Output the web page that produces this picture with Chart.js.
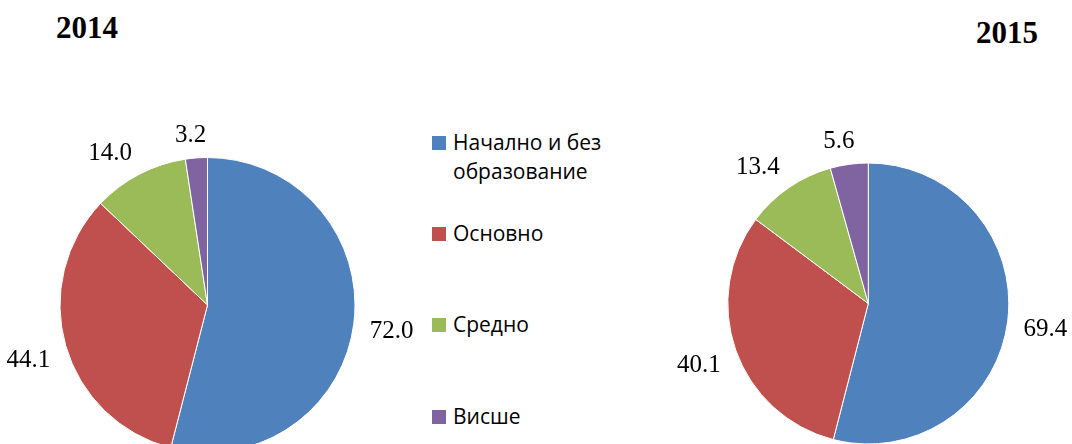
<!DOCTYPE html>
<html><head><meta charset="utf-8">
<script src="https://cdn.jsdelivr.net/npm/chart.js@4"></script>
<style>
html,body{margin:0;padding:0;width:1072px;height:444px;overflow:hidden;background:#fff;}
body{position:relative;}
canvas{position:absolute;display:block;}
.title{position:absolute;font:bold 31px "Liberation Serif","Times New Roman",serif;line-height:31px;color:#000;white-space:nowrap;}
.lg{position:absolute;left:432px;font:21px "Open Sans",sans-serif;line-height:29px;color:#000;white-space:nowrap;}
.lg .sw{position:absolute;left:0;width:14px;height:14px;}
.lg .tx{position:absolute;left:21px;top:0;}
</style></head>
<body>
<div class="title" id="t1" style="left:56px;top:12px"></div>
<div class="title" id="t2" style="left:976px;top:17px"></div>
<canvas id="c1" width="420" height="470" style="left:0;top:0;width:420px;height:470px"></canvas>
<canvas id="c2" width="432" height="470" style="left:640px;top:0;width:432px;height:470px"></canvas>
<div id="legend"></div>
<script>
const categories = ["Начално и без образование", "Основно", "Средно", "Висше"];
const legendLines = [["Начално и без", "образование"], ["Основно"], ["Средно"], ["Висше"]];
const years = ["2014", "2015"];
const values2014 = [72.0, 44.1, 14.0, 3.2];
const values2015 = [69.4, 40.1, 13.4, 5.6];
const colors = ["#4F81BD", "#C0504D", "#9BBB59", "#8064A2"];

document.getElementById('t1').textContent = years[0];
document.getElementById('t2').textContent = years[1];

// HTML legend built from categories & colors
const lg = document.getElementById('legend');
legendLines.forEach((lines, i) => {
  const item = document.createElement('div');
  item.className = 'lg';
  item.style.top = (127.5 + 91.4 * i) + 'px';
  const sw = document.createElement('span');
  sw.className = 'sw'; sw.style.background = colors[i]; sw.style.top = '8px';
  const tx = document.createElement('span');
  tx.className = 'tx'; tx.innerHTML = lines.join('<br>');
  tx.title = categories[i];
  item.appendChild(sw); item.appendChild(tx);
  lg.appendChild(item);
});

const outsideLabels = {
  id: 'outsideLabels',
  afterDatasetsDraw(chart, args, opts) {
    const ctx = chart.ctx;
    const meta = chart.getDatasetMeta(0);
    const data = chart.data.datasets[0].data;
    ctx.save();
    ctx.font = opts.font;
    ctx.fillStyle = opts.color;
    ctx.textAlign = 'center';
    ctx.textBaseline = 'alphabetic';
    meta.data.forEach((arc, i) => {
      const p = arc.getProps(['x', 'y', 'startAngle', 'endAngle', 'outerRadius'], true);
      const mid = (p.startAngle + p.endAngle) / 2;
      const dx = Math.cos(mid), dy = Math.sin(mid);
      const txt = Number(data[i]).toFixed(1);
      const w = ctx.measureText(txt).width / 2, h = opts.digitH / 2;
      const R = p.outerRadius + opts.gap;
      const px = p.x + R * dx, py = p.y + R * dy;
      const angH = Math.atan2(Math.abs(dy), Math.abs(dx));
      let ox, oy;
      if (Math.abs(dx) >= Math.abs(dy)) {
        ox = -Math.sign(dx) * w;
        oy = -Math.sign(dy) * h * Math.min(1, angH / opts.sat);
      } else {
        const angV = Math.PI / 2 - angH;
        oy = -Math.sign(dy) * h;
        ox = -Math.sign(dx) * w * Math.min(1, angV / opts.sat);
      }
      ctx.fillText(txt, px - ox, py - oy + h);
    });
    ctx.restore();
  }
};

function makePie(id, values, padding) {
  return new Chart(document.getElementById(id), {
    type: 'pie',
    data: {
      labels: categories,
      datasets: [{ data: values, backgroundColor: colors, borderColor: '#ffffff', borderWidth: 1 }]
    },
    options: {
      responsive: false,
      animation: false,
      events: [],
      layout: { padding: padding },
      plugins: {
        legend: { display: false },
        tooltip: { enabled: false },
        outsideLabels: { font: '25px "Liberation Serif", "Times New Roman", serif', color: '#000', digitH: 16.8, gap: 16, sat: 15 * Math.PI / 180 }
      }
    },
    plugins: [outsideLabels]
  });
}

makePie('c1', values2014, { left: 59.5, top: 157, right: 64.5, bottom: 17 });
makePie('c2', values2015, { left: 87.3, top: 162.5, right: 62.7, bottom: 25.5 });
</script>
</body></html>
